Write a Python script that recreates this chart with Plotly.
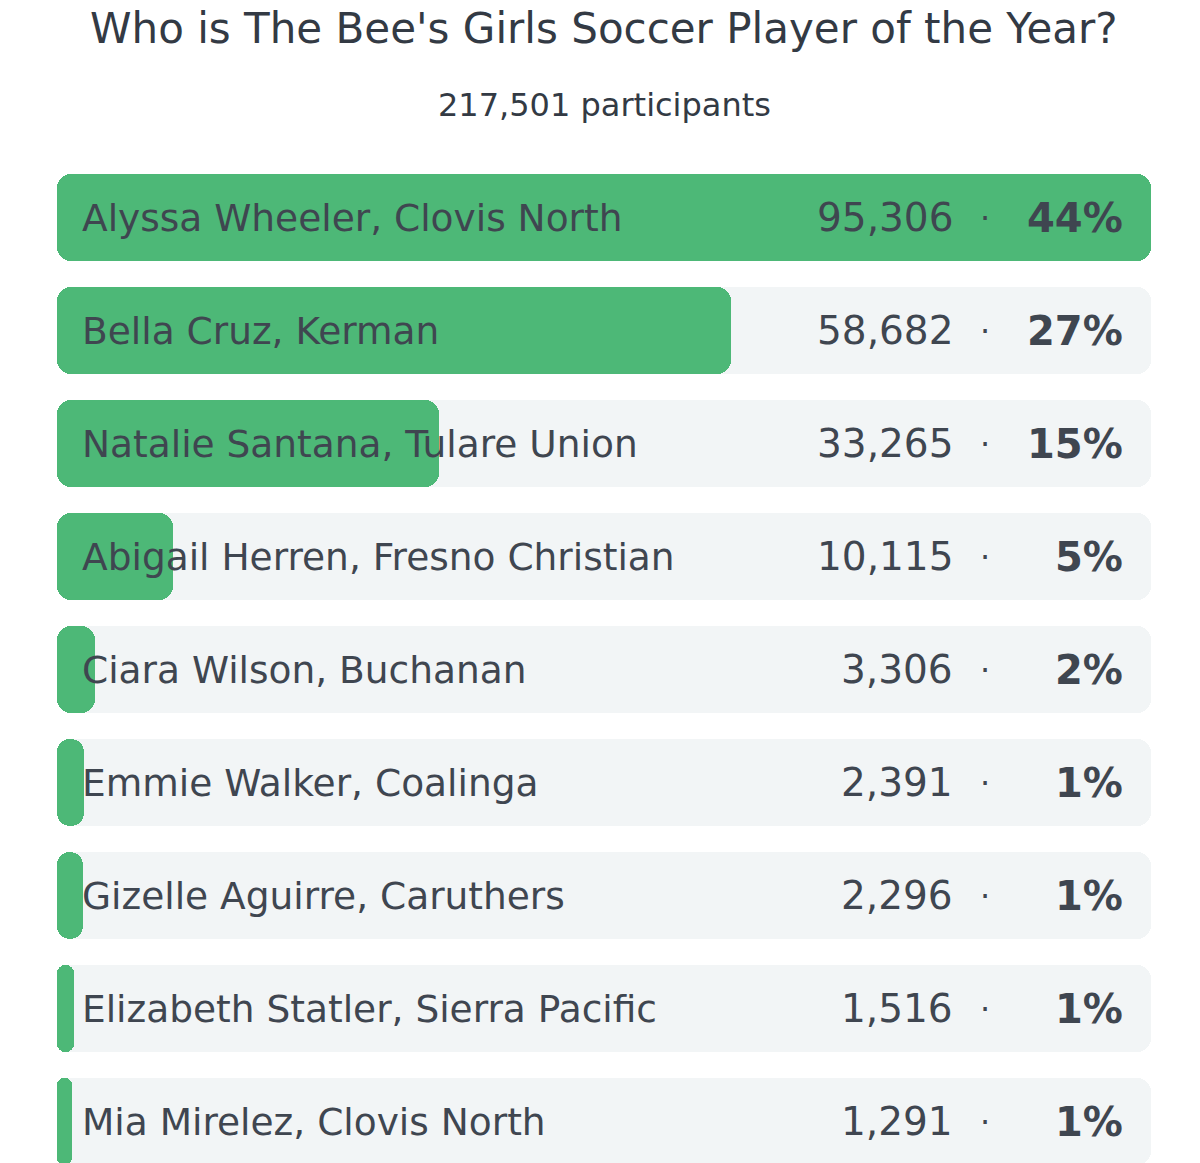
import plotly.graph_objects as go

title = "Who is The Bee's Girls Soccer Player of the Year?"
subtitle = "217,501 participants"
names = [
    "Alyssa Wheeler, Clovis North",
    "Bella Cruz, Kerman",
    "Natalie Santana, Tulare Union",
    "Abigail Herren, Fresno Christian",
    "Ciara Wilson, Buchanan",
    "Emmie Walker, Coalinga",
    "Gizelle Aguirre, Caruthers",
    "Elizabeth Statler, Sierra Pacific",
    "Mia Mirelez, Clovis North",
]
votes = [95306, 58682, 33265, 10115, 3306, 2391, 2296, 1516, 1291]
pcts = ["44%", "27%", "15%", "5%", "2%", "1%", "1%", "1%", "1%"]

GREEN = "#4db877"
TRACK = "#f2f5f6"
TEXT = "#3f4650"
FONT = "DejaVu Sans"

ys = list(range(len(names)))
vmax = max(votes)
BW = 0.77
RAD = 14

fig = go.Figure()


def rounded_bar(values, color):
    # explicit base -> plotly rounds all four corners
    fig.add_trace(go.Bar(
        x=values, base=[0] * len(values), y=ys, orientation="h", width=BW,
        marker=dict(color=color, cornerradius=RAD, line=dict(width=0)),
        hoverinfo="skip", showlegend=False,
    ))


rounded_bar([vmax] * len(names), TRACK)
rounded_bar(votes, GREEN)

annotations = []
for i, (n, v, p) in enumerate(zip(names, votes, pcts)):
    annotations.append(dict(x=0, y=i, xref="x", yref="y", text=n, showarrow=False,
                            xanchor="left", xshift=23, yanchor="middle",
                            font=dict(family=FONT, size=37.5, color=TEXT)))
    annotations.append(dict(x=vmax, y=i, xref="x", yref="y", text=f"{v:,}", showarrow=False,
                            xanchor="right", xshift=-196, yanchor="middle",
                            font=dict(family=FONT, size=39, color=TEXT)))
    annotations.append(dict(x=vmax, y=i, xref="x", yref="y", text="·", showarrow=False,
                            xanchor="center", xshift=-166, yanchor="middle",
                            font=dict(family=FONT, size=32, color=TEXT)))
    annotations.append(dict(x=vmax, y=i, xref="x", yref="y", text=f"<b>{p}</b>", showarrow=False,
                            xanchor="right", xshift=-26, yanchor="middle",
                            font=dict(family=FONT, size=40, color=TEXT)))

H = 1163
OFF = 8  # page body margin
T, B = 160 - OFF, OFF
ph = H - T - B


def paper_y(page_px):
    return (H - B - (page_px - OFF)) / ph


annotations.append(dict(x=0.5, y=paper_y(29), xref="paper", yref="paper", text=title, showarrow=False,
                        xanchor="center", yanchor="middle",
                        font=dict(family=FONT, size=42, color="#333a44")))
annotations.append(dict(x=0.5, y=paper_y(105), xref="paper", yref="paper", text=subtitle, showarrow=False,
                        xanchor="center", yanchor="middle",
                        font=dict(family=FONT, size=32, color="#333a44")))

fig.update_layout(
    width=1200, height=H,
    margin=dict(l=57 - OFF, r=1200 - 1151 + OFF, t=T, b=B),
    paper_bgcolor="white", plot_bgcolor="white",
    barmode="overlay", bargap=0,
    xaxis=dict(range=[0, vmax], visible=False, fixedrange=True),
    yaxis=dict(range=[8.363, -0.513], visible=False, fixedrange=True),
    annotations=annotations,
    showlegend=False,
)

fig.write_html("out.html")
